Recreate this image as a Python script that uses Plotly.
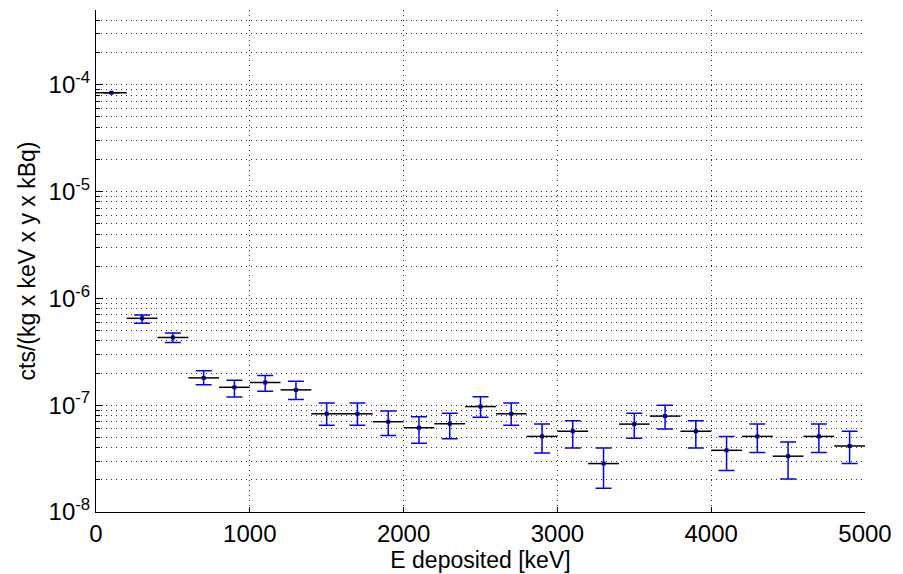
import plotly.graph_objects as go
import numpy as np

# bin centres [keV]
energy = [100, 300, 500, 700, 900, 1100, 1300, 1500, 1700, 1900, 2100, 2300, 2500,
          2700, 2900, 3100, 3300, 3500, 3700, 3900, 4100, 4300, 4500, 4700, 4900]
half_bin = [100] * 25
rate = [8.4e-5, 6.5e-7, 4.3e-7, 1.8e-7, 1.47e-7, 1.63e-7, 1.39e-7, 8.3e-8, 8.3e-8, 7.0e-8,
        6.15e-8, 6.7e-8, 9.7e-8, 8.3e-8, 5.1e-8, 5.7e-8, 2.84e-8, 6.65e-8, 7.9e-8, 5.7e-8,
        3.78e-8, 5.1e-8, 3.33e-8, 5.1e-8, 4.15e-8]
# first bin: vertical error too small to be visible
rate_upper = [None, 7.0e-7, 4.73e-7, 2.1e-7, 1.71e-7, 1.9e-7, 1.67e-7, 1.05e-7, 1.05e-7, 8.8e-8,
              7.8e-8, 8.4e-8, 1.2e-7, 1.05e-7, 6.65e-8, 7.15e-8, 3.97e-8, 8.4e-8, 1.0e-7, 7.15e-8,
              5.1e-8, 6.65e-8, 4.52e-8, 6.65e-8, 5.7e-8]
rate_lower = [None, 5.86e-7, 3.87e-7, 1.55e-7, 1.19e-7, 1.35e-7, 1.13e-7, 6.47e-8, 6.47e-8, 5.2e-8,
              4.4e-8, 4.86e-8, 7.7e-8, 6.5e-8, 3.57e-8, 3.97e-8, 1.67e-8, 4.9e-8, 5.97e-8, 3.97e-8,
              2.45e-8, 3.6e-8, 2.04e-8, 3.6e-8, 2.84e-8]

x_ticks = [0, 1000, 2000, 3000, 4000, 5000]
decades = [-8, -7, -6, -5, -4]

err_plus = [float("nan") if u is None else u - r for u, r in zip(rate_upper, rate)]
err_minus = [float("nan") if l is None else r - l for r, l in zip(rate, rate_lower)]

y_major = [10.0 ** d for d in decades]
y_major_text = [f"10<sup>{d}</sup>" for d in decades]
y_minor = []
for d in decades:
    for m in range(2, 10):
        v = m * 10.0 ** d
        if v <= 5.2e-4:
            y_minor.append(v)

FONT = "Liberation Sans, Arial, Helvetica, sans-serif"
GRID = dict(showgrid=True, gridcolor="#333", griddash="1px,4px", gridwidth=1)

fig = go.Figure()
fig.add_trace(go.Scatter(
    x=energy, y=rate, mode="markers",
    marker=dict(symbol="square", size=4, color="#000080"),
    error_y=dict(type="data", symmetric=False, array=err_plus, arrayminus=err_minus,
                 color="#0000ff", thickness=1.5, width=8),
    error_x=dict(type="data", array=half_bin, color="black", thickness=1.5, width=0),
    showlegend=False,
))

fig.update_layout(
    width=903, height=574,
    margin=dict(l=96, r=38, t=10, b=62),
    paper_bgcolor="white", plot_bgcolor="white",
    font=dict(family=FONT, size=24, color="black"),
    xaxis=dict(
        range=[0, 5000], tickvals=x_ticks, ticktext=[str(t) for t in x_ticks],
        showline=True, linecolor="black", linewidth=1,
        ticks="inside", ticklen=5, tickcolor="black",
        zeroline=False, **GRID,
        title=dict(text="E deposited [keV]", standoff=2, font=dict(size=23)),
        tickfont=dict(size=24),
    ),
    yaxis=dict(
        type="log", range=[-8, np.log10(5e-4)],
        tickvals=y_major, ticktext=y_major_text,
        showline=True, linecolor="black", linewidth=1,
        ticks="inside", ticklen=7, tickcolor="black",
        zeroline=False, **GRID,
        minor=dict(tickmode="array", tickvals=y_minor, ticks="inside", ticklen=4,
                   tickcolor="black", showgrid=True, gridcolor="#333",
                   griddash="1px,4px", gridwidth=1),
        title=dict(text="cts/(kg x keV x y x kBq)", standoff=6, font=dict(size=23)),
        tickfont=dict(size=24),
    ),
)

fig.write_html("out.html")
